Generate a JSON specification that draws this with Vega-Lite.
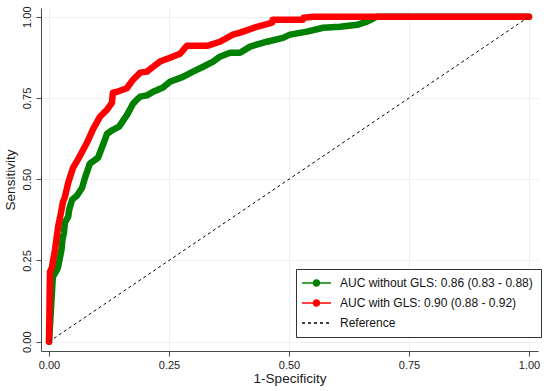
{
  "$schema": "https://vega.github.io/schema/vega-lite/v6.json",
  "width": 497,
  "height": 343,
  "autosize": {"type": "none"},
  "padding": {"left": 41, "top": 8, "right": 12, "bottom": 40},
  "background": "white",
  "config": {
    "view": {"stroke": null},
    "axis": {
      "domainColor": "#4a4a4a",
      "tickColor": "#4a4a4a",
      "tickSize": 5,
      "gridColor": "#eaf2f3",
      "gridWidth": 1,
      "labelFont": "Liberation Sans",
      "labelFontSize": 11,
      "labelColor": "#1a1a1a",
      "titleFont": "Liberation Sans",
      "titleFontSize": 13.5,
      "titleFontWeight": "normal",
      "titleColor": "#1a1a1a"
    }
  },
  "data": {
    "values": [
      {"series": "without", "x": 0, "y": 0},
      {"series": "without", "x": 0.004, "y": 0.1},
      {"series": "without", "x": 0.008, "y": 0.2},
      {"series": "without", "x": 0.017, "y": 0.222},
      {"series": "without", "x": 0.019, "y": 0.231},
      {"series": "without", "x": 0.026, "y": 0.283},
      {"series": "without", "x": 0.028, "y": 0.314},
      {"series": "without", "x": 0.031, "y": 0.335},
      {"series": "without", "x": 0.033, "y": 0.366},
      {"series": "without", "x": 0.040, "y": 0.385},
      {"series": "without", "x": 0.042, "y": 0.406},
      {"series": "without", "x": 0.048, "y": 0.437},
      {"series": "without", "x": 0.058, "y": 0.449},
      {"series": "without", "x": 0.069, "y": 0.474},
      {"series": "without", "x": 0.075, "y": 0.505},
      {"series": "without", "x": 0.085, "y": 0.548},
      {"series": "without", "x": 0.102, "y": 0.566},
      {"series": "without", "x": 0.1125, "y": 0.606},
      {"series": "without", "x": 0.121, "y": 0.64},
      {"series": "without", "x": 0.133, "y": 0.652},
      {"series": "without", "x": 0.146, "y": 0.662},
      {"series": "without", "x": 0.1625, "y": 0.698},
      {"series": "without", "x": 0.175, "y": 0.732},
      {"series": "without", "x": 0.183, "y": 0.745},
      {"series": "without", "x": 0.19, "y": 0.754},
      {"series": "without", "x": 0.204, "y": 0.758},
      {"series": "without", "x": 0.217, "y": 0.769},
      {"series": "without", "x": 0.2375, "y": 0.782},
      {"series": "without", "x": 0.252, "y": 0.8},
      {"series": "without", "x": 0.279, "y": 0.815},
      {"series": "without", "x": 0.3, "y": 0.831},
      {"series": "without", "x": 0.321, "y": 0.846},
      {"series": "without", "x": 0.342, "y": 0.862},
      {"series": "without", "x": 0.356, "y": 0.877},
      {"series": "without", "x": 0.377, "y": 0.889},
      {"series": "without", "x": 0.398, "y": 0.889},
      {"series": "without", "x": 0.419, "y": 0.908},
      {"series": "without", "x": 0.454, "y": 0.923},
      {"series": "without", "x": 0.4875, "y": 0.935},
      {"series": "without", "x": 0.502, "y": 0.945},
      {"series": "without", "x": 0.5375, "y": 0.954},
      {"series": "without", "x": 0.571, "y": 0.966},
      {"series": "without", "x": 0.606, "y": 0.969},
      {"series": "without", "x": 0.642, "y": 0.975},
      {"series": "without", "x": 0.6625, "y": 0.985},
      {"series": "without", "x": 0.675, "y": 0.994},
      {"series": "without", "x": 0.683, "y": 1.0},
      {"series": "without", "x": 1.0, "y": 1.0},
      {"series": "with", "x": 0, "y": 0},
      {"series": "with", "x": 0.002, "y": 0.215},
      {"series": "with", "x": 0.006, "y": 0.228},
      {"series": "with", "x": 0.0125, "y": 0.283},
      {"series": "with", "x": 0.019, "y": 0.354},
      {"series": "with", "x": 0.025, "y": 0.397},
      {"series": "with", "x": 0.029, "y": 0.43},
      {"series": "with", "x": 0.033, "y": 0.445},
      {"series": "with", "x": 0.04, "y": 0.489},
      {"series": "with", "x": 0.05, "y": 0.535},
      {"series": "with", "x": 0.06, "y": 0.56},
      {"series": "with", "x": 0.079, "y": 0.612},
      {"series": "with", "x": 0.092, "y": 0.655},
      {"series": "with", "x": 0.106, "y": 0.692},
      {"series": "with", "x": 0.121, "y": 0.714},
      {"series": "with", "x": 0.131, "y": 0.735},
      {"series": "with", "x": 0.133, "y": 0.766},
      {"series": "with", "x": 0.142, "y": 0.769},
      {"series": "with", "x": 0.162, "y": 0.78},
      {"series": "with", "x": 0.175, "y": 0.806},
      {"series": "with", "x": 0.19, "y": 0.828},
      {"series": "with", "x": 0.204, "y": 0.831},
      {"series": "with", "x": 0.217, "y": 0.846},
      {"series": "with", "x": 0.231, "y": 0.862},
      {"series": "with", "x": 0.252, "y": 0.874},
      {"series": "with", "x": 0.273, "y": 0.886},
      {"series": "with", "x": 0.2875, "y": 0.911},
      {"series": "with", "x": 0.331, "y": 0.911},
      {"series": "with", "x": 0.356, "y": 0.923},
      {"series": "with", "x": 0.383, "y": 0.945},
      {"series": "with", "x": 0.398, "y": 0.951},
      {"series": "with", "x": 0.433, "y": 0.969},
      {"series": "with", "x": 0.465, "y": 0.982},
      {"series": "with", "x": 0.466, "y": 0.991},
      {"series": "with", "x": 0.529, "y": 0.991},
      {"series": "with", "x": 0.53, "y": 0.997},
      {"series": "with", "x": 0.55, "y": 1.0},
      {"series": "with", "x": 1.0, "y": 1.0},
      {"series": "Reference", "x": 0, "y": 0},
      {"series": "Reference", "x": 1, "y": 1}
    ]
  },
  "encoding": {
    "x": {
      "field": "x",
      "type": "quantitative",
      "scale": {"domain": [-0.0167, 1.0187], "nice": false, "zero": false},
      "axis": {
        "values": [0, 0.25, 0.5, 0.75, 1],
        "format": ".2f",
        "title": "1-Specificity",
        "labelPadding": 3,
        "titlePadding": 1,
        "grid": true
      }
    },
    "y": {
      "field": "y",
      "type": "quantitative",
      "scale": {"domain": [-0.0286, 1.0268], "nice": false, "zero": false},
      "axis": {
        "values": [0, 0.25, 0.5, 0.75, 1],
        "format": ".2f",
        "title": "Sensitivity",
        "labelAngle": -90,
        "labelAlign": "center",
        "labelBaseline": "bottom",
        "labelPadding": 4,
        "titlePadding": 4,
        "grid": true
      }
    },
    "color": {
      "field": "series",
      "type": "nominal",
      "scale": {
        "domain": ["without", "with", "Reference"],
        "range": ["#008000", "#ff0000", "#000000"]
      },
      "legend": {
        "orient": "none",
        "legendX": 255,
        "legendY": 261,
        "title": null,
        "padding": 8,
        "strokeColor": "#333333",
        "fillColor": "#ffffff",
        "labelFont": "Liberation Sans",
        "labelFontSize": 12,
        "labelColor": "#111111",
        "labelOffset": 24,
        "labelLimit": 0,
        "rowPadding": 8,
        "symbolSize": 93,
        "symbolStrokeWidth": 1.5,
        "labelExpr": "datum.value === 'without' ? 'AUC without GLS: 0.86 (0.83 - 0.88)  ' : (datum.value === 'with' ? 'AUC with GLS: 0.90 (0.88 - 0.92)' : 'Reference')",
        "encode": {
          "symbols": {
            "update": {
              "shape": [
                {"test": "datum.value === 'Reference'", "value": "M-1.66,0H4.35"},
                {"value": "M-1.66,0H4.35M0.73,0A0.62,0.62,0,1,1,1.97,0A0.62,0.62,0,1,1,0.73,0Z"}
              ],
              "size": {"value": 93},
              "strokeWidth": {"value": 1.5},
              "fill": {"scale": "color", "field": "value"},
              "strokeDash": [
                {"test": "datum.value === 'Reference'", "value": [3, 3]},
                {"value": [1, 0]}
              ]
            }
          }
        }
      }
    }
  },
  "layer": [
    {
      "transform": [{"filter": "datum.series === 'without'"}],
      "mark": {"type": "line", "strokeWidth": 6.5, "strokeCap": "round", "strokeJoin": "round"},
      "encoding": {}
    },
    {
      "transform": [{"filter": "datum.series === 'with'"}],
      "mark": {"type": "line", "strokeWidth": 6.5, "strokeCap": "round", "strokeJoin": "round"},
      "encoding": {}
    },
    {
      "transform": [{"filter": "datum.series === 'Reference'"}],
      "mark": {"type": "line", "strokeWidth": 1, "strokeDash": [3, 3]},
      "encoding": {}
    }
  ]
}
